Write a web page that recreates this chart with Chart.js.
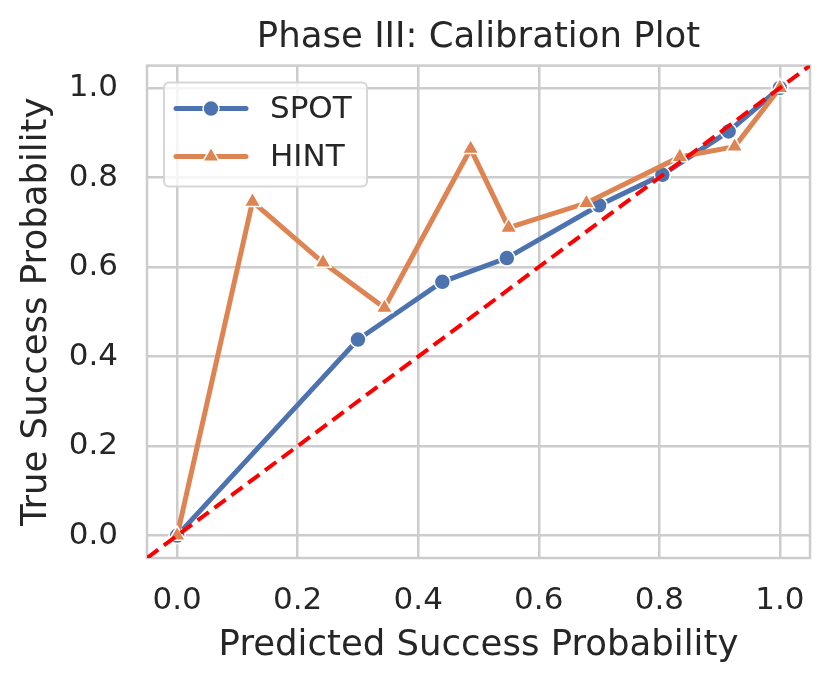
<!DOCTYPE html>
<html>
<head>
<meta charset="utf-8">
<script src="https://cdn.jsdelivr.net/npm/chart.js@4"></script>
<style>
  html, body { margin: 0; padding: 0; background: #fff; }
  #wrap { width: 831px; height: 687px; }
</style>
</head>
<body>
<div id="wrap"><canvas id="calib"></canvas></div>
<script>
// calibration curves
const spotX = [0.0, 0.30, 0.44, 0.547, 0.70, 0.805, 0.915, 1.0];
const spotY = [0.0, 0.438, 0.567, 0.62, 0.738, 0.806, 0.903, 1.0];
const hintX = [0.0, 0.125, 0.242, 0.344, 0.487, 0.550, 0.679, 0.834, 0.925, 1.0];
const hintY = [0.0, 0.746, 0.61, 0.509, 0.864, 0.688, 0.743, 0.846, 0.869, 1.0];
// perfect calibration line, spans the whole axis range
const diagX = [-0.05, 1.05];
const diagY = [-0.05, 1.05];
const tickValues = [0, 0.2, 0.4, 0.6, 0.8, 1.0];
const seriesNames = ['SPOT', 'HINT'];

const FONT = 'DejaVu Sans';
const TEXT = '#262626';
const GRID = '#cccccc';
const BLUE = '#4c72b0';
const ORANGE = '#dd8452';

const toPoints = (xs, ys) => xs.map((x, i) => ({ x: x, y: ys[i] }));

// frame around the plot area (seaborn whitegrid spines)
const framePlugin = {
    id: 'frame',
    beforeDatasetsDraw(chart) {
        const a = chart.chartArea;
        const ctx = chart.ctx;
        ctx.save();
        ctx.strokeStyle = GRID;
        ctx.lineWidth = 2.5;
        ctx.strokeRect(a.left, a.top, a.right - a.left, a.bottom - a.top);
        ctx.restore();
    }
};

// legend drawn inside the plot, line + marker like matplotlib
const legendPlugin = {
    id: 'innerLegend',
    afterDraw(chart) {
        const a = chart.chartArea;
        const ctx = chart.ctx;
        const x0 = a.left + 17, y0 = a.top + 17, w = 203, h = 104;
        ctx.save();
        ctx.beginPath();
        ctx.roundRect(x0, y0, w, h, 5);
        ctx.fillStyle = 'rgba(255,255,255,0.8)';
        ctx.fill();
        ctx.strokeStyle = '#d6d6d6';
        ctx.lineWidth = 2;
        ctx.stroke();

        [0, 1].forEach(i => {
            const ds = chart.data.datasets[i];
            const cy = y0 + 26 + i * 48;
            ctx.strokeStyle = ds.borderColor;
            ctx.lineWidth = ds.borderWidth;
            ctx.lineCap = 'round';
            ctx.beginPath();
            ctx.moveTo(x0 + 12, cy);
            ctx.lineTo(x0 + 82, cy);
            ctx.stroke();

            ctx.fillStyle = ds.pointBackgroundColor;
            ctx.strokeStyle = ds.pointBorderColor;
            ctx.lineWidth = ds.pointBorderWidth;
            Chart.helpers.drawPoint(ctx, {
                pointStyle: ds.pointStyle,
                radius: ds.pointRadius,
                borderWidth: ds.pointBorderWidth
            }, x0 + 47, cy);

            ctx.fillStyle = TEXT;
            ctx.font = '31px "' + FONT + '"';
            ctx.textBaseline = 'middle';
            ctx.fillText(seriesNames[i], x0 + 106, cy + 1);
        });
        ctx.restore();
    }
};

const ctx = document.getElementById('calib').getContext('2d');
new Chart(ctx, {
    type: 'scatter',
    data: {
        datasets: [
            {
                label: seriesNames[0],
                data: toPoints(spotX, spotY),
                showLine: true,
                borderColor: BLUE,
                backgroundColor: BLUE,
                borderWidth: 5,
                pointStyle: 'circle',
                pointRadius: 8,
                pointBorderColor: '#ffffff',
                pointBorderWidth: 1.5,
                pointBackgroundColor: BLUE,
                order: 2
            },
            {
                label: seriesNames[1],
                data: toPoints(hintX, hintY),
                showLine: true,
                borderColor: ORANGE,
                backgroundColor: ORANGE,
                borderWidth: 5,
                pointStyle: 'triangle',
                pointRadius: 9.5,
                pointBorderColor: '#ffffff',
                pointBorderWidth: 1.5,
                pointBackgroundColor: ORANGE,
                order: 1
            },
            {
                label: 'Perfect',
                data: toPoints(diagX, diagY),
                showLine: true,
                borderColor: '#ff0000',
                borderWidth: 4,
                borderDash: [14, 7],
                pointRadius: 0,
                order: 0
            }
        ]
    },
    options: {
        responsive: true,
        maintainAspectRatio: false,
        animation: false,
        layout: { padding: { left: 0, right: 21, top: 0, bottom: 0 } },
        plugins: {
            legend: { display: false },
            tooltip: { enabled: false },
            title: {
                display: true,
                fullSize: false,
                text: 'Phase III: Calibration Plot',
                color: TEXT,
                font: { family: FONT, size: 35.5, weight: 'normal' },
                padding: { top: 16, bottom: 7 }
            }
        },
        scales: {
            x: {
                type: 'linear',
                min: -0.05,
                max: 1.05,
                afterBuildTicks: s => { s.ticks = tickValues.map(v => ({ value: v })); },
                afterFit: s => { s.height = 129; },
                grid: { color: GRID, lineWidth: 2.5, drawTicks: false },
                border: { display: false },
                ticks: {
                    color: TEXT,
                    padding: 24,
                    font: { family: FONT, size: 31 },
                    callback: v => v.toFixed(1)
                },
                title: {
                    display: true,
                    text: 'Predicted Success Probability',
                    color: TEXT,
                    font: { family: FONT, size: 35.5 },
                    padding: { top: 0, bottom: 20 }
                }
            },
            y: {
                type: 'linear',
                min: -0.05,
                max: 1.05,
                afterBuildTicks: s => { s.ticks = tickValues.map(v => ({ value: v })); },
                afterFit: s => { s.width = 147; },
                grid: { color: GRID, lineWidth: 2.5, drawTicks: false },
                border: { display: false },
                ticks: {
                    color: TEXT,
                    padding: 29,
                    font: { family: FONT, size: 31 },
                    callback: v => v.toFixed(1)
                },
                title: {
                    display: true,
                    text: 'True Success Probability',
                    color: TEXT,
                    font: { family: FONT, size: 35.5 },
                    padding: { top: 15, bottom: 0 }
                }
            }
        }
    },
    plugins: [framePlugin, legendPlugin]
});
</script>
</body>
</html>
